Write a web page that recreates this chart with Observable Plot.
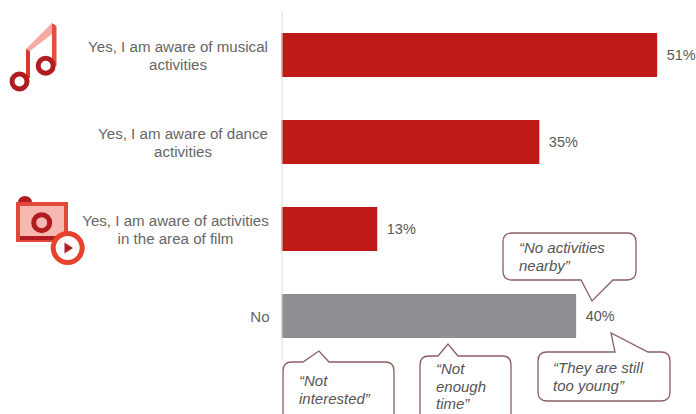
<!DOCTYPE html>
<html>
<head>
<meta charset="utf-8">
<style>
  html, body { margin: 0; padding: 0; background: #fff; }
  svg { display: block; }
</style>
<script src="https://cdn.jsdelivr.net/npm/d3@7"></script>
<script src="https://cdn.jsdelivr.net/npm/@observablehq/plot@0.6"></script>
</head>
<body>
<script>
// Awareness of cultural activities, share of respondents
const categories = [
  "Yes, I am aware of musical\nactivities",
  "Yes, I am aware of dance\nactivities",
  "Yes, I am aware of activities\nin the area of film",
  "No"
];
const shares = [51, 35, 13, 40];
const barColors = ["#c01a18", "#c01a18", "#c01a18", "#8f8f93"];

const quotes = [
  "“No activities\nnearby”",
  "“They are still\ntoo young”",
  "“Not\nenough\ntime”",
  "“Not\ninterested”"
];

// Horizontal shift of each centred category label from the axis
const labelShifts = [-104, -99, -106.5, -22];

const rows = categories.map((label, i) => ({label, share: shares[i], color: barColors[i]}));

// Rounded speech bubble; the tail sits on the top or bottom edge
function bubblePath({x0, y0, x1, y1, tail, r = 9}) {
  const [a, tip, b] = tail;
  const onTop = tip[1] < y0;
  const open = y1 > 414;
  const p = d3.path();
  p.moveTo(x0, open ? y1 : y1 - r);
  p.lineTo(x0, y0 + r);
  p.quadraticCurveTo(x0, y0, x0 + r, y0);
  if (onTop) { p.lineTo(a[0], a[1]); p.lineTo(tip[0], tip[1]); p.lineTo(b[0], b[1]); }
  p.lineTo(x1 - r, y0);
  p.quadraticCurveTo(x1, y0, x1, y0 + r);
  p.lineTo(x1, open ? y1 : y1 - r);
  if (!open) {
    p.quadraticCurveTo(x1, y1, x1 - r, y1);
    if (!onTop) { p.lineTo(b[0], b[1]); p.lineTo(tip[0], tip[1]); p.lineTo(a[0], a[1]); }
    p.lineTo(x0 + r, y1);
    p.quadraticCurveTo(x0, y1, x0, y1 - r);
  }
  return p.toString();
}

const bubbleShapes = [
  {x0: 503, y0: 233, x1: 636, y1: 280, tail: [[581, 280], [592, 301], [613, 280]], tx: 519, ty: 253},
  {x0: 538, y0: 352, x1: 670, y1: 401, tail: [[615, 352], [611, 333], [648, 352]], tx: 553, ty: 373},
  {x0: 420, y0: 356, x1: 511, y1: 430, tail: [[438, 356], [448, 344], [458, 356]], tx: 436, ty: 374},
  {x0: 283, y0: 362, x1: 394, y1: 430, tail: [[303, 362], [319, 351], [329, 362]], tx: 299, ty: 386}
];

// Speech bubbles quoting reasons given for answering "No"
function bubbles() {
  const g = d3.create("svg:g");
  bubbleShapes.forEach((s, i) => {
    g.append("path").attr("d", bubblePath(s))
      .attr("fill", "#fff").attr("stroke", "#8c5f63").attr("stroke-width", 1.3);
    const t = g.append("text")
      .attr("text-anchor", "start")
      .attr("font-family", "Liberation Sans, Arial, sans-serif")
      .attr("font-style", "italic").attr("font-size", 15).attr("fill", "#555");
    quotes[i].split("\n").forEach((line, j) => {
      t.append("tspan").attr("x", s.tx).attr("y", s.ty + j * 17.5).text(line);
    });
  });
  return g.node();
}

// Pictograms beside the music and film rows
function icons() {
  const g = d3.create("svg:g");
  // Music notes
  g.append("path").attr("d", "M26 49 L52 23 L52 34 L30 51 Z").attr("fill", "#f6aaa2");
  g.append("path").attr("d", "M26 49 L30 51 L30 78 L26 78 Z").attr("fill", "#d93a30");
  g.append("path").attr("d", "M52 23 L56.5 26 L56.5 66 L52 64 Z").attr("fill", "#e4503f");
  [[19.5, 81.5], [45.7, 65.7]].forEach(([cx, cy]) => {
    g.append("circle").attr("cx", cx).attr("cy", cy).attr("r", 7.5)
      .attr("fill", "#fff").attr("stroke", "#b01c20").attr("stroke-width", 5);
  });
  // Film reel
  g.append("path").attr("d", "M18 202 A7 6 0 0 1 32 202 Z").attr("fill", "#b01c20");
  g.append("rect").attr("x", 18).attr("y", 204).attr("width", 48).attr("height", 36)
    .attr("fill", "#f6b8b0").attr("stroke", "#e2483a").attr("stroke-width", 4);
  g.append("rect").attr("x", 20).attr("y", 236).attr("width", 44).attr("height", 4).attr("fill", "#b01c20");
  g.append("circle").attr("cx", 41.7).attr("cy", 222.7).attr("r", 8)
    .attr("fill", "#f6b8b0").attr("stroke", "#b01c20").attr("stroke-width", 5);
  g.append("circle").attr("cx", 67.7).attr("cy", 248).attr("r", 14.5)
    .attr("fill", "#fff").attr("stroke", "#e6432f").attr("stroke-width", 5);
  g.append("path").attr("d", "M64.5 242.5 L73 248 L64.5 253.5 Z").attr("fill", "#a92025");
  return g.node();
}

const plot = Plot.plot({
  width: 696,
  height: 414,
  marginTop: 11,
  marginBottom: 54,
  marginLeft: 0,
  marginRight: 0,
  style: {background: "#fff", fontFamily: "Liberation Sans, Arial, sans-serif"},
  x: {domain: [0, 56], range: [281.5, 694], axis: null},
  y: {domain: categories, paddingInner: 0.5, paddingOuter: 0.25, axis: null},
  marks: [
    Plot.barX(rows, {x: "share", y: "label", fill: "color"}),
    Plot.ruleX([0], {stroke: "#ddd", strokeWidth: 1}),
    Plot.text(rows, {
      x: "share", y: "label", text: d => `${d.share}%`,
      textAnchor: "start", dx: 9, fontSize: 14.5, fill: "#595959"
    }),
    ...rows.map((row, i) => Plot.text([row], {
      x: () => 0, y: "label", text: "label",
      textAnchor: "middle", dx: labelShifts[i], lineHeight: 1.18,
      fontSize: 15.1, fill: "#666"
    })),
    icons,
    bubbles
  ]
});
document.body.append(plot);
</script>
</body>
</html>
